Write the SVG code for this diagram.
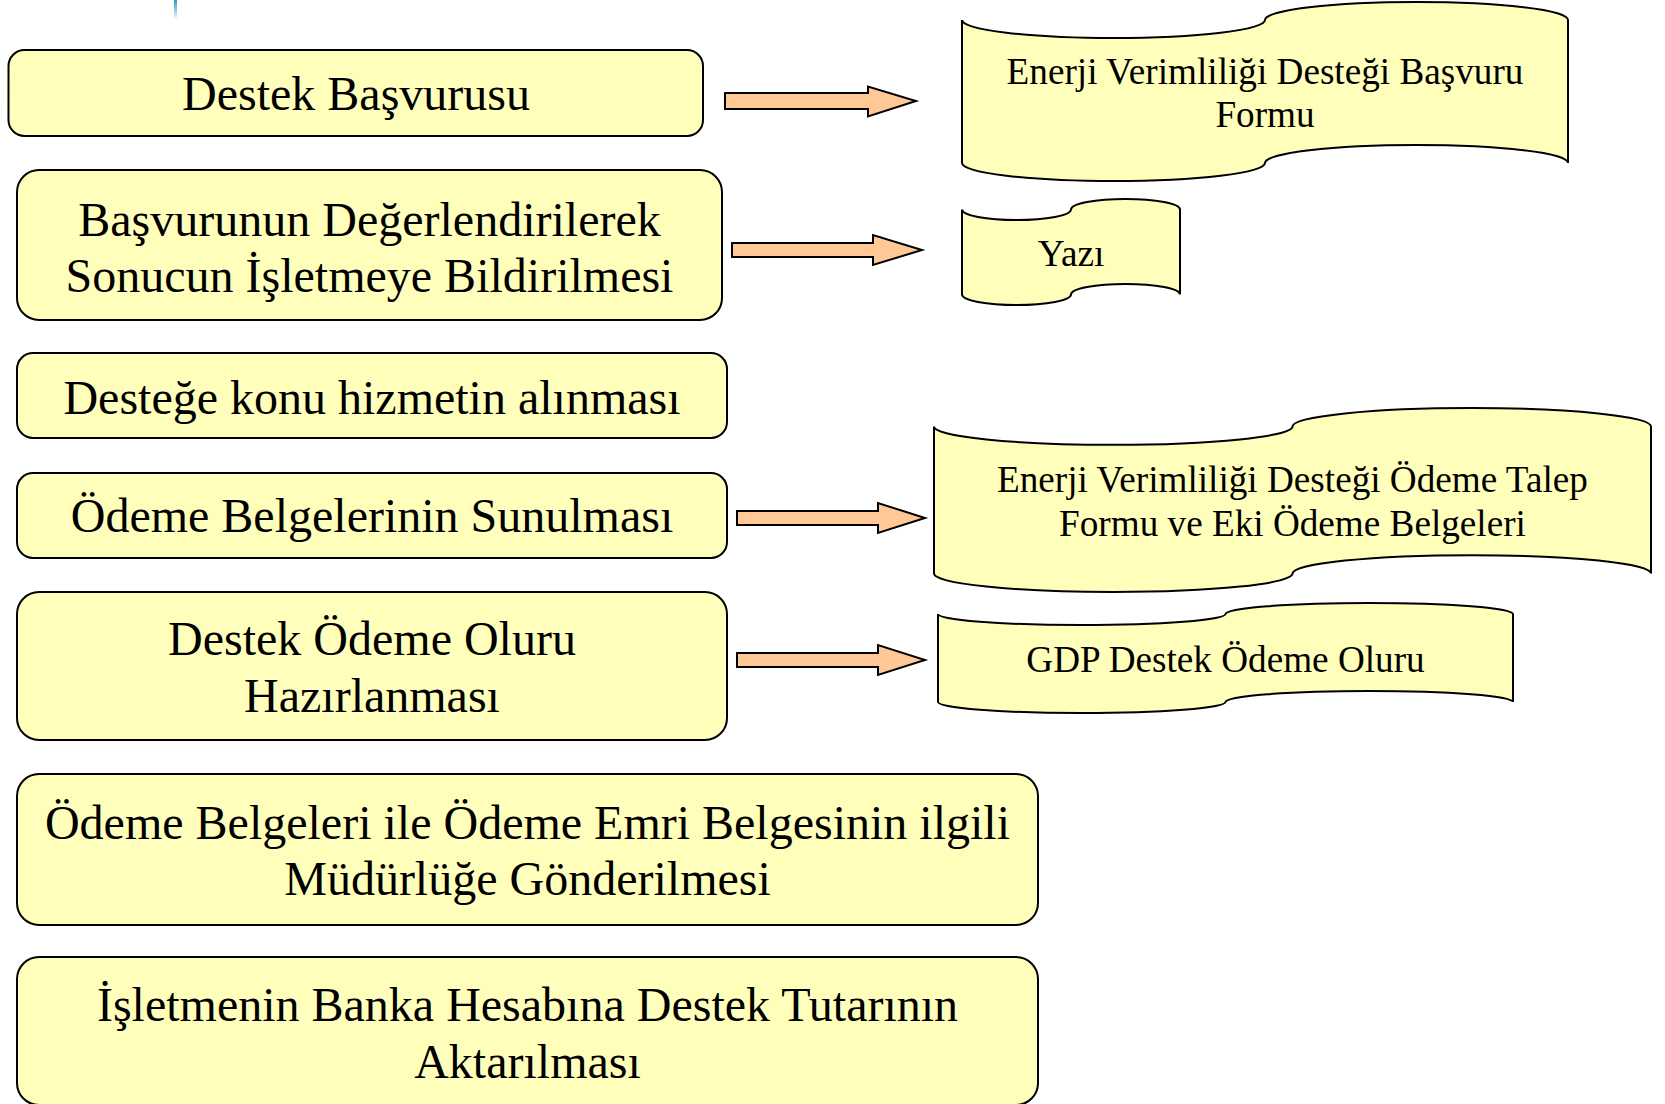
<svg xmlns="http://www.w3.org/2000/svg" width="1665" height="1104" viewBox="0 0 1665 1104">
<style>
.box{fill:#FFFFBB;stroke:#000;stroke-width:2}
.doc{fill:#FFFFBB;stroke:#000;stroke-width:2}
.arr{fill:#FFC896;stroke:#000;stroke-width:2;stroke-linejoin:miter}
.t{font-family:"Liberation Serif","Times New Roman",serif;font-size:48px;fill:#000;text-anchor:middle}
.d{font-family:"Liberation Serif","Times New Roman",serif;font-size:37.2px;fill:#000;text-anchor:middle}
</style>
<defs>
<linearGradient id="lg" x1="0" y1="0" x2="0" y2="1">
<stop offset="0" stop-color="#2A9CC4"/>
<stop offset="1" stop-color="#2A9CC4" stop-opacity="0"/>
</linearGradient>
</defs>
<rect x="174" y="0" width="3" height="20" fill="url(#lg)"/>

<g id="connectors">
<polygon class="arr" points="725,93 868,93 868,86.5 916,101 868,116.5 868,109 725,109"/>
<polygon class="arr" points="732,243 873,243 873,235 922,250 873,265 873,257 732,257"/>
<polygon class="arr" points="737,511 878,511 878,503 925,518 878,533 878,525 737,525"/>
<polygon class="arr" points="737,653 878,653 878,645 925,660 878,675 878,667 737,667"/>
</g>

<g id="n1"><rect class="box" x="8.5" y="50" width="694.5" height="86" rx="16"/>
<text class="t" x="356" y="110">Destek Başvurusu</text></g>

<g id="n2"><rect class="box" x="17" y="170" width="705" height="150" rx="22"/>
<text class="t" x="369.5" y="236">Başvurunun Değerlendirilerek</text>
<text class="t" x="369.5" y="292">Sonucun İşletmeye Bildirilmesi</text></g>

<g id="n3"><rect class="box" x="17" y="353" width="710" height="85" rx="16"/>
<text class="t" x="372" y="414">Desteğe konu hizmetin alınması</text></g>

<g id="n4"><rect class="box" x="17" y="473" width="710" height="85" rx="16"/>
<text class="t" x="372" y="532">Ödeme Belgelerinin Sunulması</text></g>

<g id="n5"><rect class="box" x="17" y="592" width="710" height="148" rx="22"/>
<text class="t" x="372" y="655">Destek Ödeme Oluru</text>
<text class="t" x="372" y="712">Hazırlanması</text></g>

<g id="n6"><rect class="box" x="17" y="774" width="1021" height="151" rx="22"/>
<text class="t" x="527.5" y="839">Ödeme Belgeleri ile Ödeme Emri Belgesinin ilgili</text>
<text class="t" x="527.5" y="895">Müdürlüğe Gönderilmesi</text></g>

<g id="n7"><rect class="box" x="17" y="957" width="1021" height="148" rx="22"/>
<text class="t" x="527.5" y="1021">İşletmenin Banka Hesabına Destek Tutarının</text>
<text class="t" x="527.5" y="1078">Aktarılması</text></g>

<g id="d1"><path class="doc" d="M962,20 A151.5,18 0 0 0 1265,20 A151.5,18 0 0 1 1568,20 L1568,163 A151.5,18 0 0 0 1265,163 A151.5,18 0 0 1 962,163 Z"/>
<text class="d" x="1265" y="84">Enerji Verimliliği Desteği Başvuru</text>
<text class="d" x="1265" y="127">Formu</text></g>

<g id="d2"><path class="doc" d="M962,209.5 A54.5,10.5 0 0 0 1071,209.5 A54.5,10.5 0 0 1 1180,209.5 L1180,294.5 A54.5,10.5 0 0 0 1071,294.5 A54.5,10.5 0 0 1 962,294.5 Z"/>
<text class="d" x="1071" y="266">Yazı</text></g>

<g id="d3"><path class="doc" d="M934,426.4 A179.25,18.4 0 0 0 1292.5,426.4 A179.25,18.4 0 0 1 1651,426.4 L1651,573.6 A179.25,18.4 0 0 0 1292.5,573.6 A179.25,18.4 0 0 1 934,573.6 Z"/>
<text class="d" x="1292.5" y="492">Enerji Verimliliği Desteği Ödeme Talep</text>
<text class="d" x="1292.5" y="536">Formu ve Eki Ödeme Belgeleri</text></g>

<g id="d4"><path class="doc" d="M938,614 A143.75,11 0 0 0 1225.5,614 A143.75,11 0 0 1 1513,614 L1513,702 A143.75,11 0 0 0 1225.5,702 A143.75,11 0 0 1 938,702 Z"/>
<text class="d" x="1225.5" y="672">GDP Destek Ödeme Oluru</text></g>
</svg>
